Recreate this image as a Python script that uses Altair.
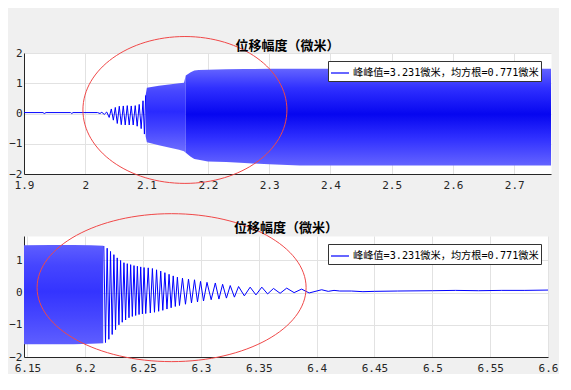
import altair as alt
import pandas as pd

# ---------------- data ----------------
LEGEND_LABEL = "峰峰值=3.231微米，均方根=0.771微米"
TITLE = "位移幅度（微米）"

# top panel: quiet part + visible start-up oscillation (line)
top_line_t = [1.900, 1.931, 1.933, 1.936, 1.976, 1.978, 1.980,
              2.020, 2.024, 2.027, 2.031, 2.035,
              2.039, 2.0425, 2.0458, 2.049, 2.0522, 2.0555, 2.0587, 2.062,
              2.0652, 2.0685, 2.0717, 2.075, 2.0782, 2.0815, 2.0847, 2.088,
              2.0912, 2.0942, 2.0965, 2.0985]
top_line_y = [0.03, 0.03, 0.0, 0.03, 0.03, 0.0, 0.03,
              0.03, 0.0, 0.04, -0.03, 0.05,
              -0.13, 0.15, -0.22, 0.2, -0.33, 0.24, -0.37, 0.25,
              -0.38, 0.26, -0.38, 0.25, -0.38, 0.26, -0.42, 0.3,
              -0.5, 0.42, -0.68, 0.6]

# top panel: envelope of the dense oscillation (lighter, striped part)
top_band1_t = [2.0985, 2.1005, 2.12, 2.14, 2.153, 2.161, 2.164]
top_band1_hi = [0.6, 0.85, 0.92, 0.97, 1.0, 1.02, 1.26]
top_band1_lo = [-0.75, -0.95, -1.05, -1.14, -1.2, -1.25, -1.3]

# top panel: envelope of the dense steady oscillation
top_band2_t = [2.164, 2.172, 2.178, 2.185, 2.2, 2.23, 2.26, 2.3, 2.35, 2.4, 2.5, 2.6, 2.7, 2.76]
top_band2_hi = [1.26, 1.36, 1.42, 1.44, 1.45, 1.46, 1.47, 1.48, 1.48, 1.48, 1.48, 1.48, 1.48, 1.48]
top_band2_lo = [-1.3, -1.43, -1.5, -1.53, -1.59, -1.6, -1.64, -1.68, -1.72, -1.72, -1.72, -1.72, -1.72, -1.72]

# bottom panel: envelope of the dense oscillation before ring-down
bot_band_t = [6.147, 6.17, 6.19, 6.205, 6.2155]
bot_band_hi = [1.47, 1.48, 1.48, 1.47, 1.46]
bot_band_lo = [-1.6, -1.6, -1.6, -1.59, -1.57]

# bottom panel: ring-down peaks / troughs and quiet tail (line)
bot_line_t = [6.2160, 6.21745, 6.2189, 6.22035, 6.2218, 6.22325, 6.2247, 6.22615,
              6.2276, 6.22905, 6.2305, 6.23195, 6.2334, 6.23485, 6.2363, 6.23775,
              6.2392, 6.24065, 6.2421, 6.24355, 6.2450, 6.24645, 6.2479, 6.24935,
              6.2508, 6.25225,
              6.2544, 6.2562, 6.2580, 6.2598, 6.2616, 6.2634, 6.2652, 6.2670,
              6.2688, 6.2706, 6.2724, 6.2742, 6.2760, 6.2778, 6.2796, 6.2814,
              6.2840, 6.2866, 6.2892, 6.2918, 6.2944, 6.2970, 6.2996, 6.3022,
              6.3052, 6.3088, 6.3124, 6.3155, 6.3187, 6.3220, 6.3253, 6.3289,
              6.3325, 6.3375, 6.3425, 6.3475, 6.3526, 6.3576, 6.3627, 6.3684,
              6.3741, 6.3805, 6.3870, 6.3935,
              6.4043, 6.410, 6.415, 6.420, 6.430, 6.440, 6.450, 6.470,
              6.500, 6.520, 6.540, 6.560, 6.580, 6.600]
bot_line_y = [1.45, -1.55, 1.38, -1.45, 1.28, -1.3, 1.18, -1.15,
              1.08, -1.0, 1.0, -0.92, 0.93, -0.85, 0.9, -0.78,
              0.87, -0.74, 0.84, -0.71, 0.82, -0.68, 0.8, -0.66,
              0.78, -0.65,
              0.77, -0.63, 0.75, -0.61, 0.71, -0.58, 0.67, -0.55,
              0.62, -0.51, 0.57, -0.47, 0.52, -0.43, 0.48, -0.40,
              0.45, -0.36, 0.42, -0.32, 0.40, -0.29, 0.35, -0.26,
              0.32, -0.22, 0.30, -0.20, 0.26, -0.17, 0.22, -0.14,
              0.19, -0.10, 0.17, -0.07, 0.17, -0.04, 0.13, -0.02,
              0.14, 0.0, 0.11, -0.01,
              0.09, 0.04, 0.07, 0.05, 0.05, 0.03, 0.04, 0.05,
              0.06, 0.07, 0.06, 0.07, 0.07, 0.08]

# red hand-drawn ellipses (centre in data units)
top_ell_t, top_ell_y = [2.1626], [0.117]
bot_ell_t, bot_ell_y = [6.2746], [0.155]

top_xticks = [1.9, 2.0, 2.1, 2.2, 2.3, 2.4, 2.5, 2.6, 2.7]
top_yticks = [-2, -1, 0, 1, 2]
bot_xticks = [6.15, 6.2, 6.25, 6.3, 6.35, 6.4, 6.45, 6.5, 6.55, 6.6]
bot_yticks = [-2, -1, 0, 1]

# ---------------- styling ----------------
FONT_NUM = "DejaVu Sans Mono"
FONT_CJK = "Noto Sans CJK SC"
BLUE = "#0000ff"
RED = "#f04848"


def grad(edge, mid, centre):
    return alt.LinearGradient(
        gradient="linear", x1=0, x2=0, y1=0, y2=1,
        stops=[alt.GradientStop(color=edge, offset=0),
               alt.GradientStop(color=mid, offset=0.2),
               alt.GradientStop(color=centre, offset=0.47),
               alt.GradientStop(color=mid, offset=0.72),
               alt.GradientStop(color=edge, offset=1)])


def panel(line_t, line_y, bands, xdom, xticks, ydom, yticks, ell_t, ell_y,
          ell_shape, ell_size, w, h, title_offset):
    xs = alt.Scale(domain=xdom, nice=False, zero=False)
    ys = alt.Scale(domain=ydom, nice=False, zero=False)
    xax = alt.Axis(values=xticks, format="~g", title=None, labelPadding=5,
                   labelFlush=False)
    yax = alt.Axis(values=yticks, format="~g", title=None, labelPadding=2,
                   labelFlush=False)

    layers = []
    for (bt, bhi, blo, g) in bands:
        df = pd.DataFrame({"t": bt, "hi": bhi, "lo": blo})
        layers.append(
            alt.Chart(df).mark_area(color=g, opacity=1, clip=True).encode(
                x=alt.X("t:Q", scale=xs, axis=xax),
                y=alt.Y("hi:Q", scale=ys, axis=yax),
                y2="lo:Q"))
    ldf = pd.DataFrame({"t": line_t, "y": line_y, "s": LEGEND_LABEL})
    layers.append(
        alt.Chart(ldf).mark_line(strokeWidth=1, clip=True).encode(
            x=alt.X("t:Q", scale=xs, axis=xax),
            y=alt.Y("y:Q", scale=ys, axis=yax),
            color=alt.Color("s:N", scale=alt.Scale(range=[BLUE]),
                            legend=alt.Legend(
                                orient="none", legendX=304, legendY=8, title=None,
                                symbolType="stroke", symbolSize=324,
                                symbolStrokeWidth=1.2,
                                labelFont=FONT_NUM + ", " + FONT_CJK,
                                labelFontSize=10.2, labelColor="#000000",
                                labelLimit=400,
                                fillColor="white", strokeColor="#333333",
                                padding=2, labelOffset=3))))
    edf = pd.DataFrame({"t": ell_t, "y": ell_y})
    layers.append(
        alt.Chart(edf).mark_point(shape=ell_shape, size=ell_size, filled=False,
                                  color=RED, strokeWidth=1, opacity=1).encode(
            x=alt.X("t:Q", scale=xs, axis=xax),
            y=alt.Y("y:Q", scale=ys, axis=yax)))
    return alt.layer(*layers).properties(
        width=w, height=h,
        title=alt.TitleParams(TITLE, font=FONT_CJK, fontSize=13, fontWeight="bold",
                              color="#000000", offset=title_offset, anchor="middle",
                              frame="group"))


top = panel(top_line_t, top_line_y,
            [(top_band1_t, top_band1_hi, top_band1_lo, grad("#7070ff", "#4848ff", "#2a2aff")),
             (top_band2_t, top_band2_hi, top_band2_lo, grad("#6464ff", "#3030ff", "#0606f0"))],
            [1.9, 2.76], top_xticks, [-2, 2], top_yticks, top_ell_t, top_ell_y,
            "M -1 0 A 1 0.72 0 1 1 1 0 A 1 0.72 0 1 1 -1 0 Z", 41616, 527, 121, -18)

bottom = panel(bot_line_t, bot_line_y,
               [(bot_band_t, bot_band_hi, bot_band_lo, grad("#5e5eff", "#4646ff", "#3434ff"))],
               [6.147, 6.6], bot_xticks, [-2, 1.76], bot_yticks, bot_ell_t, bot_ell_y,
               "M -1 0 A 1 0.55 0 1 1 1 0 A 1 0.55 0 1 1 -1 0 Z", 72361, 524, 121, -23)

chart = alt.vconcat(top, bottom, spacing=20).resolve_scale(color="independent").properties(
    background="#f0f0f0",
    padding={"left": 0, "top": 26, "right": 0, "bottom": 0},
).configure_view(stroke="transparent", fill="white").configure_axis(
    labelFont=FONT_NUM, labelFontSize=11, labelColor="#262626",
    domainColor="#262626", domainWidth=1, ticks=False,
    grid=True, gridColor="#e2e2e2", gridWidth=1)

chart.save("out.html", embed_options={"renderer": "svg", "actions": False})
